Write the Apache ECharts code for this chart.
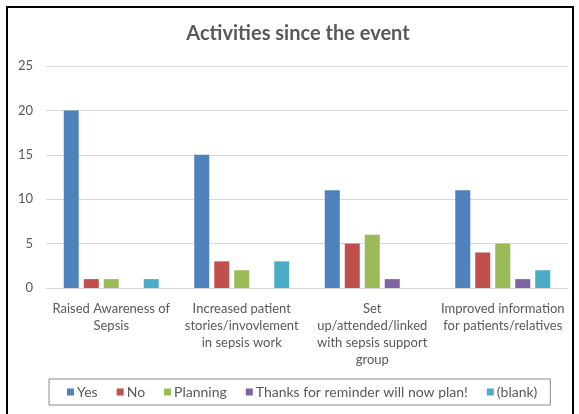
<!DOCTYPE html>
<html>
<head>
<meta charset="utf-8">
<script src="https://cdn.jsdelivr.net/npm/echarts@6/dist/echarts.min.js"></script>
<style>
html,body{margin:0;padding:0;background:#fff;}
#chart{width:579px;height:414px;}
</style>
</head>
<body>
<div id="chart"></div>
<script>
const categories = [
  "Raised Awareness of\nSepsis",
  "Increased patient\nstories/invovlement\nin sepsis work",
  "Set\nup/attended/linked\nwith sepsis support\ngroup",
  "Improved information\nfor patients/relatives"
];
const seriesNames = ["Yes", "No", "Planning", "Thanks for reminder will now plan!", "(blank)"];
const yesValues = [20, 15, 11, 11];
const noValues = [1, 3, 5, 4];
const planningValues = [1, 2, 6, 5];
const thanksValues = [0, 0, 1, 1];
const blankValues = [1, 3, 0, 2];
const yTicks = [0, 5, 10, 15, 20, 25];

const colors = ["#4F81BD", "#C0504D", "#9BBB59", "#8064A2", "#4BACC6"];
const allValues = [yesValues, noValues, planningValues, thanksValues, blankValues];
const FONT = "Lato, 'Noto Sans', sans-serif";

const chart = echarts.init(document.getElementById('chart'), null, {renderer: 'canvas'});
chart.setOption({
  animation: false,
  color: colors,
  textStyle: {fontFamily: FONT},
  title: {
    text: "Activities since the event",
    left: 293,
    textAlign: 'center',
    top: 19,
    textStyle: {fontFamily: FONT, fontSize: 20, fontWeight: 'bold', color: '#595959'}
  },
  legend: {
    data: seriesNames,
    left: 49,
    top: 379,
    icon: 'rect',
    itemWidth: 7,
    itemHeight: 7,
    itemGap: 19,
    padding: [6, 13, 6, 18],
    borderColor: '#8c8c8c',
    borderWidth: 1,
    textStyle: {fontFamily: FONT, fontSize: 14, color: '#595959', padding: [0, 0, 0, -2]}
  },
  grid: {left: 46, right: 11, top: 66, bottom: 126, containLabel: false},
  xAxis: {
    type: 'category',
    data: categories,
    axisLine: {show: true, lineStyle: {color: '#d9d9d9', width: 1}},
    axisTick: {show: false},
    axisLabel: {
      interval: 0,
      margin: 12,
      fontFamily: FONT,
      fontSize: 13,
      color: '#595959',
      lineHeight: 17
    }
  },
  yAxis: {
    type: 'value',
    min: yTicks[0],
    max: yTicks[yTicks.length - 1],
    interval: 5,
    axisLine: {show: false},
    axisTick: {show: false},
    axisLabel: {margin: 13, fontFamily: FONT, fontSize: 13, color: '#595959'},
    splitLine: {lineStyle: {color: '#d9d9d9', width: 1}}
  },
  graphic: [{
    type: 'rect',
    shape: {x: 7, y: 7, width: 566, height: 430},
    style: {fill: 'none', stroke: '#000', lineWidth: 2},
    silent: true
  }],
  series: seriesNames.map((name, i) => ({
    name: name,
    type: 'bar',
    data: allValues[i],
    barWidth: 15,
    barGap: '33.3%',
    itemStyle: {color: colors[i]}
  }))
});
</script>
</body>
</html>
